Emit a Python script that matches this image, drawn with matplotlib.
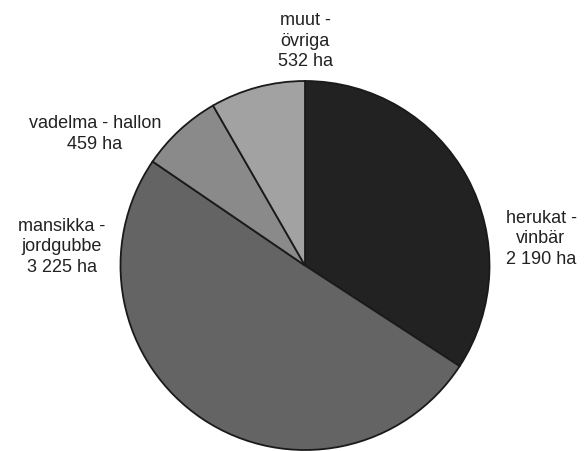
import matplotlib.pyplot as plt

# area by berry type (ha)
categories = ["herukat -\nvinbär", "mansikka -\njordgubbe", "vadelma - hallon", "muut -\növriga"]
areas = [2190, 3225, 459, 532]
area_labels = ["2 190 ha", "3 225 ha", "459 ha", "532 ha"]
colors = ["#222222", "#646464", "#8a8a8a", "#a2a2a2"]

W, H = 585, 452
fig = plt.figure(figsize=(W / 100, H / 100), dpi=100)
ax = fig.add_axes([0, 0, 1, 1])
ax.set_xlim(0, W)
ax.set_ylim(0, H)
ax.set_aspect("equal")
ax.axis("off")

ax.pie(areas, colors=colors, startangle=90, counterclock=False,
       center=(305, H - 266.5), radius=184.5, frame=True,
       wedgeprops=dict(edgecolor="#1a1a1a", linewidth=1.3))
ax.set_xlim(0, W)
ax.set_ylim(0, H)
ax.axis("off")

# label positions in pixels (x, y from top)
label_pos = [(541, 239), (62, 247), (95, 134), (305, 41)]
for name, lab, (x, y) in zip(categories, area_labels, label_pos):
    ax.text(x, H - y, name + "\n" + lab, ha="center", va="center",
            multialignment="center", fontsize=13, family="Liberation Sans",
            color="#222222", linespacing=1.25)

fig.savefig("out.png", dpi=100)
